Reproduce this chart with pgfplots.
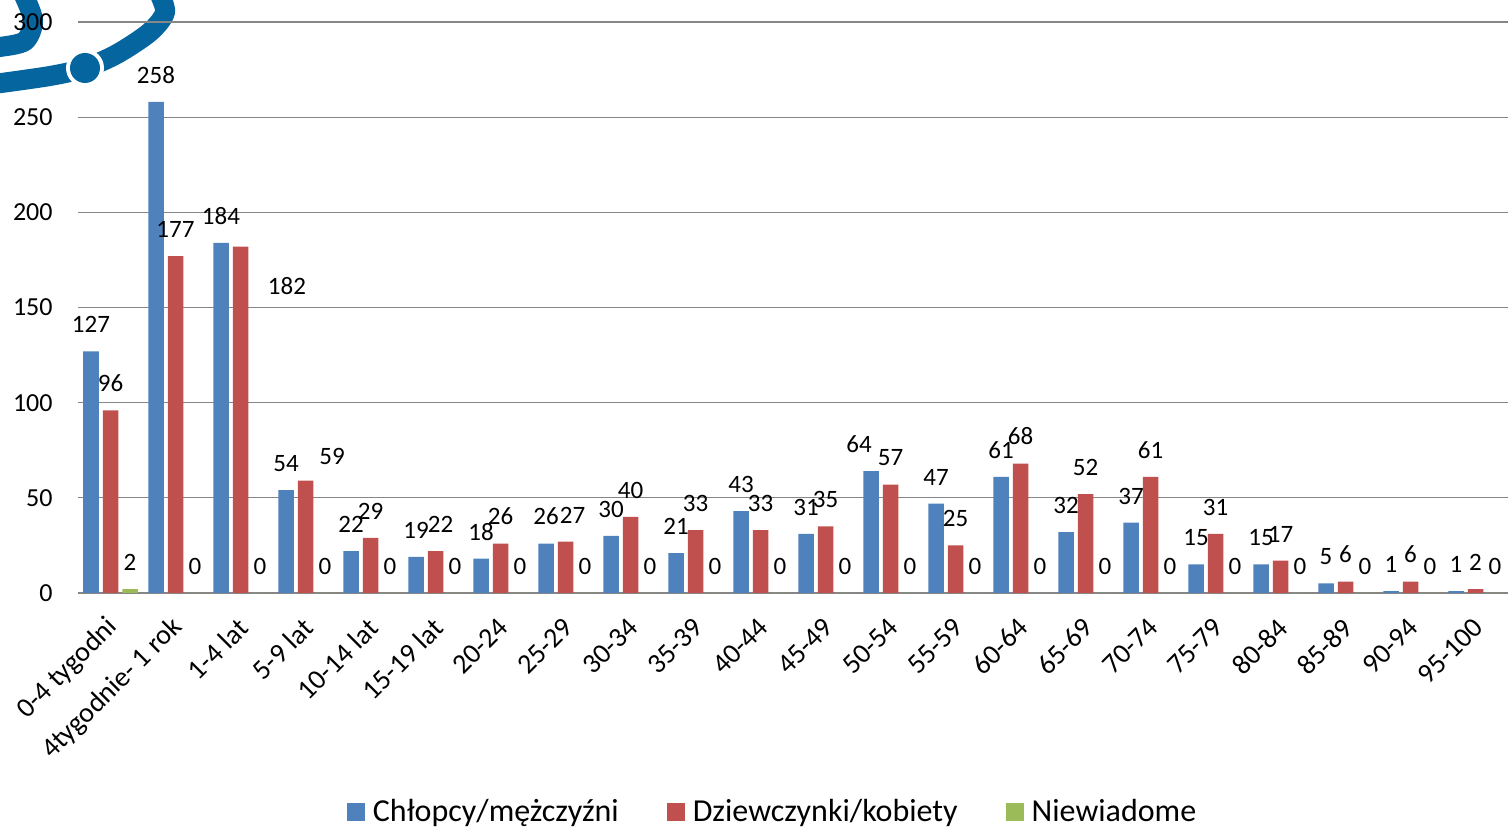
\documentclass[border=0pt]{standalone}
\usepackage{fontspec}
\setmainfont{Carlito}
\usepackage{pgfplots}
\usepackage{pgfplotstable}
\pgfplotsset{compat=1.18}
\definecolor{cblue}{HTML}{4F81BD}
\definecolor{cred}{HTML}{C0504D}
\definecolor{cgreen}{HTML}{9BBB59}
\definecolor{cgrid}{HTML}{868686}
\definecolor{clogo}{HTML}{05659F}

\pgfplotstableread{
x b r g bdx rdx rdy
0 127 96 2 0 0 0
1 258 177 0 0 0 0
2 184 182 0 0 23.25 -33.25
3 54 59 0 0 13.25 -1
4 22 29 0 0 0 0
5 19 22 0 0 2.5 0
6 18 26 0 0 0 0
7 26 27 0 0 3.5 0
8 30 40 0 0 0 0
9 21 33 0 0 0 0
10 43 33 0 0 0 0
11 31 35 0 0 0 0
12 64 57 0 -6 0 0
13 47 25 0 0 0 0
14 61 68 0 0 0 0
15 32 52 0 0 0 0
16 37 61 0 0 0 0
17 15 31 0 0 0 0
18 15 17 0 0 0 0
19 5 6 0 0 0 0
20 1 6 0 0 0 0
21 1 2 0 0 0 0
}\data

\begin{document}
\begin{tikzpicture}
% decorative logo fragment (background)
\draw[clogo, line width=10pt] plot[smooth] coordinates {(-42pt,254.5pt) (-14pt,258.5pt) (3.5pt,262.5pt) (19.5pt,269.5pt) (36pt,280.5pt) (43.5pt,290.5pt) (40pt,301pt)};
\fill[white] (3.5pt,262.5pt) circle (9.5pt);
\fill[clogo] (3.5pt,262.5pt) circle (7.5pt);
\draw[clogo, line width=10pt] plot[smooth] coordinates {(-28pt,301pt) (-22.5pt,286.5pt) (-26.5pt,276pt) (-39pt,273pt) (-43pt,273pt)};
\begin{axis}[
  at={(0,0)}, anchor=south west,
  scale only axis, width=715pt, height=285.5pt,
  xmin=-0.5, xmax=21.5, ymin=0, ymax=300,
  ytick={0,50,...,300},
  xtick={0,...,21},
  xticklabels={0-4 tygodni,4tygodnie- 1 rok,1-4 lat,5-9 lat,10-14 lat,15-19 lat,20-24,25-29,30-34,35-39,40-44,45-49,50-54,55-59,60-64,65-69,70-74,75-79,80-84,85-89,90-94,95-100},
  /pgf/number format/assume math mode=true,
  ybar=2pt, bar width=7.75pt,
  axis line style={draw=none},
  major tick length=0pt,
  ymajorgrids, grid style={cgrid, line width=0.65pt},
  clip=false,
  yticklabel style={font=\fontsize{13}{15}\selectfont, anchor=east, inner sep=0pt, xshift=-12.5pt},
  xticklabel style={font=\fontsize{14}{16}\selectfont, xshift=1.5pt, yshift=-15pt, rotate=45, anchor=east, inner sep=0pt},
  nodes near coords,
  every node near coord/.append style={font=\fontsize{12.5}{14}\selectfont, text=black, inner sep=0pt, yshift=9pt},
  legend columns=3,
  legend style={draw=none, fill=none, at={([yshift=-109.5pt]axis description cs:0.4864,0)}, anchor=center,
    font=\fontsize{16}{19}\selectfont,
    /tikz/every odd column/.append style={column sep=2pt},
    /tikz/every even column/.append style={column sep=22pt}},
  legend image code/.code={\draw[#1,draw=none] (0pt,-4.5pt) rectangle (9pt,4.5pt);},
]
\addplot[fill=cblue, draw=none, visualization depends on={\thisrow{bdx}\as\bdx},
  every node near coord/.append style={xshift=\bdx pt}] table[x=x,y=b] {\data};
\addlegendentry{Chłopcy/mężczyźni}
\addplot[fill=cred, draw=none, visualization depends on={\thisrow{rdx}\as\rdx},
  visualization depends on={\thisrow{rdy}\as\rdy},
  every node near coord/.append style={xshift=\rdx pt, yshift=\rdy pt}] table[x=x,y=r] {\data};
\addlegendentry{Dziewczynki/kobiety}
\addplot[fill=cgreen, draw=none] table[x=x,y=g] {\data};
\addlegendentry{Niewiadome}
\end{axis}
\pgfresetboundingbox
\path[use as bounding box] (-39pt,-117.5pt) rectangle (715pt,296.5pt);
\end{tikzpicture}
\end{document}
